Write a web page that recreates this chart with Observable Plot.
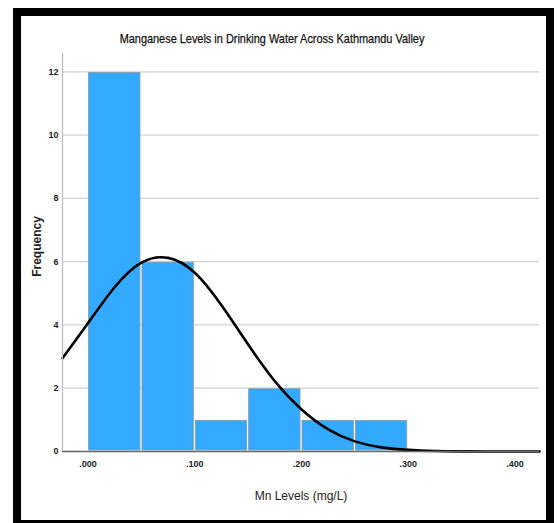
<!DOCTYPE html>
<html>
<head>
<meta charset="utf-8">
<script src="https://cdn.jsdelivr.net/npm/d3@7"></script>
<script src="https://cdn.jsdelivr.net/npm/@observablehq/plot@0.6"></script>
<style>
  html, body { margin: 0; padding: 0; background: #fff; }
  #wrap { position: relative; width: 557px; height: 523px; overflow: hidden; }
  #frame { position: absolute; left: 13px; top: 8px; width: 541px; height: 520px; border: 8px solid #000; box-sizing: border-box; pointer-events: none; }
  #title { position: absolute; left: 0; width: 544px; top: 31px; text-align: center; font-family: "Liberation Sans", Arial, sans-serif; font-size: 13px; color: #111; transform: scaleX(0.84); transform-origin: 272px 0; -webkit-text-stroke: 0.25px #111; }
  #chart { position: absolute; left: 0; top: 0; }
</style>
</head>
<body>
<div id="wrap">
  <div id="chart"></div>
  <div id="title">Manganese Levels in Drinking Water Across Kathmandu Valley</div>
  <div id="frame"></div>
</div>
<script>
// Histogram bins (mg/L) and frequencies
const binStart = [0.00, 0.05, 0.10, 0.15, 0.20, 0.25];
const binEnd   = [0.05, 0.10, 0.15, 0.20, 0.25, 0.30];
const counts   = [12, 6, 1, 2, 1, 1];

// Normal curve, points
const curveX = [-0.024, 0.0, 0.025, 0.05, 0.075, 0.1, 0.125, 0.15, 0.175, 0.2, 0.225, 0.25, 0.275, 0.3, 0.325, 0.35, 0.375, 0.4, 0.423];
const curveY = [2.95, 4.06, 5.2, 5.97, 6.12, 5.65, 4.62, 3.38, 2.22, 1.33, 0.7, 0.32, 0.13, 0.05, 0.015, 0.004, 0.001, 0.0, 0.0];

const xTicks = [0, 0.1, 0.2, 0.3, 0.4];
const xTickLabels = [".000", ".100", ".200", ".300", ".400"];
const yTicks = [0, 2, 4, 6, 8, 10, 12];

const bars = binStart.map((s, i) => ({x1: s, x2: binEnd[i], y: counts[i]}));
const curve = curveX.map((x, i) => ({x, y: curveY[i]}));

const tickFont = "Liberation Sans, Arial, sans-serif";

const plot = Plot.plot({
  width: 557,
  height: 523,
  marginLeft: 62,
  marginRight: 18,
  marginTop: 53,
  marginBottom: 72,
  style: {background: "transparent", fontFamily: tickFont, fontSize: "9px", color: "#222"},
  x: {domain: [-0.024, 0.423], label: null},
  y: {domain: [0, 12.58], label: null},
  marks: [
    Plot.ruleY(yTicks.filter(d => d > 0), {stroke: "#d4d4d4", strokeWidth: 1.2}),
    Plot.rectY(bars, {x1: "x1", x2: "x2", y: "y", fill: "#33aaff", stroke: "#8a96a0", strokeWidth: 0.8, inset: 1}),
    Plot.line(curve, {x: "x", y: "y", curve: "natural", stroke: "#000", strokeWidth: 2.6}),
    Plot.ruleX([-0.024], {stroke: "#bbb", strokeWidth: 1.2, y1: 0, y2: 12.58}),
    Plot.ruleY([0], {stroke: "#666", strokeWidth: 1.6}),
    Plot.axisX({ticks: xTicks, tickFormat: (d) => xTickLabels[xTicks.indexOf(d)], tickSize: 0, tickPadding: 9, fontWeight: "bold", label: null}),
    Plot.axisY({ticks: yTicks, tickSize: 0, tickPadding: 4, fontWeight: "bold", label: null}),
    Plot.text(["Mn Levels (mg/L)"], {frameAnchor: "bottom", dy: 48, fontSize: 12, fontFamily: tickFont, fill: "#222"}),
    Plot.text(["Frequency"], {frameAnchor: "left", textAnchor: "middle", dx: -25, dy: -6, rotate: -90, fontSize: 12, fontWeight: "bold", fontFamily: tickFont, fill: "#222", letterSpacing: "0.5px"})
  ]
});
document.getElementById("chart").appendChild(plot);
</script>
</body>
</html>
